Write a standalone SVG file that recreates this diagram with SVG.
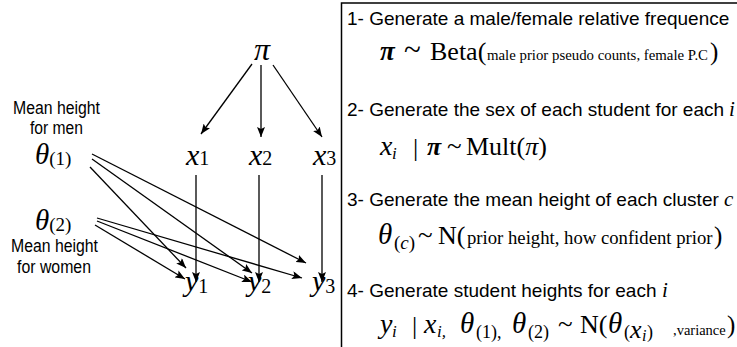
<svg xmlns="http://www.w3.org/2000/svg" width="737" height="347" viewBox="0 0 737 347">
<defs>
<style>
.sans{font-family:"Liberation Sans",Arial,sans-serif;fill:#000}
.serif{font-family:"Liberation Serif","Times New Roman",serif;fill:#000}
.it{font-style:italic}
.bi{font-style:italic;font-weight:bold}
.edge{stroke:#000;stroke-width:1.3;fill:none;marker-end:url(#ah)}
</style>
<marker id="ah" markerWidth="10" markerHeight="8" refX="10" refY="4" orient="auto" markerUnits="userSpaceOnUse">
<path d="M0,0 L10,4 L0,8 L2,4 z" fill="#000"/>
</marker>
</defs>
<rect width="737" height="347" fill="#fff"/>
<g id="connectors">
<line class="edge" x1="252" y1="64" x2="201" y2="134"/>
<line class="edge" x1="261" y1="65" x2="261" y2="137"/>
<line class="edge" x1="273" y1="65" x2="322" y2="137"/>
<line class="edge" x1="196" y1="175" x2="196" y2="282"/>
<line class="edge" x1="259" y1="175" x2="259" y2="282"/>
<line class="edge" x1="322" y1="175" x2="322" y2="282"/>
<line class="edge" x1="92" y1="154" x2="306" y2="263"/>
<line class="edge" x1="92" y1="159" x2="252" y2="273"/>
<line class="edge" x1="90" y1="167" x2="186" y2="268"/>
<line class="edge" x1="97" y1="218" x2="302" y2="278"/>
<line class="edge" x1="97" y1="221" x2="252" y2="282"/>
<line class="edge" x1="95" y1="225" x2="185" y2="279"/>
</g>
<g id="pi"><text class="serif it" x="262" y="60" font-size="32" text-anchor="middle">π</text></g>
<g id="x1"><text class="serif" x="186" y="165" font-size="30"><tspan class="it">x</tspan><tspan font-size="20">1</tspan></text></g>
<g id="x2"><text class="serif" x="249" y="165" font-size="30"><tspan class="it">x</tspan><tspan font-size="20">2</tspan></text></g>
<g id="x3"><text class="serif" x="313" y="165" font-size="30"><tspan class="it">x</tspan><tspan font-size="20">3</tspan></text></g>
<g id="y1"><text class="serif" x="185" y="291" font-size="30"><tspan class="it">y</tspan><tspan font-size="20" dy="2">1</tspan></text></g>
<g id="y2"><text class="serif" x="248" y="291" font-size="30"><tspan class="it">y</tspan><tspan font-size="20" dy="2">2</tspan></text></g>
<g id="y3"><text class="serif" x="312" y="291" font-size="30"><tspan class="it">y</tspan><tspan font-size="20" dy="2">3</tspan></text></g>
<g id="theta1">
<text class="sans" x="56.5" y="114" font-size="17.5" text-anchor="middle" textLength="87" lengthAdjust="spacingAndGlyphs">Mean height</text>
<text class="sans" x="56.5" y="134" font-size="17.5" text-anchor="middle" textLength="53" lengthAdjust="spacingAndGlyphs">for men</text>
<text class="serif" x="35" y="164" font-size="29"><tspan class="it">θ</tspan><tspan font-size="19" dy="1">(1)</tspan></text>
</g>
<g id="theta2">
<text class="serif" x="35" y="230" font-size="29"><tspan class="it">θ</tspan><tspan font-size="19" dy="1">(2)</tspan></text>
<text class="sans" x="54.5" y="252" font-size="17.5" text-anchor="middle" textLength="87" lengthAdjust="spacingAndGlyphs">Mean height</text>
<text class="sans" x="54" y="273" font-size="17.5" text-anchor="middle" textLength="74" lengthAdjust="spacingAndGlyphs">for women</text>
</g>
<g id="steps">
<path d="M341.5,347 V3 H737" fill="none" stroke="#000" stroke-width="1.5"/>
<text class="sans" x="347" y="25" font-size="19">1- Generate a male/female relative frequence</text>
<g class="serif">
<text class="bi" x="380" y="60" font-size="27">π</text>
<text x="404" y="60" font-size="31">~</text>
<text x="430" y="60" font-size="26">Beta(</text>
<text x="487" y="60" font-size="15" textLength="221" lengthAdjust="spacingAndGlyphs">male prior pseudo counts, female P.C</text>
<text x="710" y="60" font-size="25">)</text>
</g>
<text class="sans" x="347" y="116" font-size="19">2- Generate the sex of each student for each</text>
<text class="serif it" x="729" y="116" font-size="21">i</text>
<g class="serif">
<text class="it" x="380" y="155" font-size="28">x</text>
<text class="it" x="392" y="159" font-size="17">i</text>
<text x="413" y="156" font-size="26">|</text>
<text class="bi" x="427" y="155" font-size="26">π</text>
<text x="447" y="155" font-size="27">~</text>
<text x="466" y="155" font-size="26">Mult(<tspan class="it">π</tspan>)</text>
</g>
<text class="sans" x="347" y="206" font-size="19">3- Generate the mean height of each cluster</text>
<text class="serif it" x="724" y="206" font-size="21">c</text>
<g class="serif">
<text class="it" x="378" y="244" font-size="29">θ</text>
<text x="394" y="249" font-size="19">(<tspan class="it">c</tspan>)</text>
<text x="418" y="244" font-size="27">~</text>
<text x="438" y="244" font-size="26">N(</text>
<text x="467" y="244" font-size="18.7">prior height, how confident prior</text>
<text x="714" y="244" font-size="25">)</text>
</g>
<text class="sans" x="347" y="297" font-size="19">4- Generate student heights for each</text>
<text class="serif it" x="662" y="297" font-size="21">i</text>
<g class="serif">
<text class="it" x="380" y="333" font-size="28">y</text>
<text class="it" x="392" y="337" font-size="17">i</text>
<text x="412" y="334" font-size="26">|</text>
<text class="it" x="424" y="333" font-size="28">x</text>
<text class="it" x="437" y="337" font-size="17">i,</text>
<text class="it" x="460" y="333" font-size="29">θ</text>
<text x="476" y="338" font-size="18">(1),</text>
<text class="it" x="512" y="333" font-size="29">θ</text>
<text x="528" y="338" font-size="18">(2)</text>
<text x="558" y="333" font-size="27">~</text>
<text x="580" y="333" font-size="26">N(</text>
<text class="it" x="608" y="333" font-size="29">θ</text>
<text x="624" y="338" font-size="18">(</text>
<text class="it" x="630" y="338" font-size="26">x</text>
<text class="it" x="642" y="341" font-size="16">i</text>
<text x="647" y="338" font-size="18">)</text>
<text x="673" y="335" font-size="14.5">,variance</text>
<text x="727" y="333" font-size="25">)</text>
</g>
</g>
</svg>
